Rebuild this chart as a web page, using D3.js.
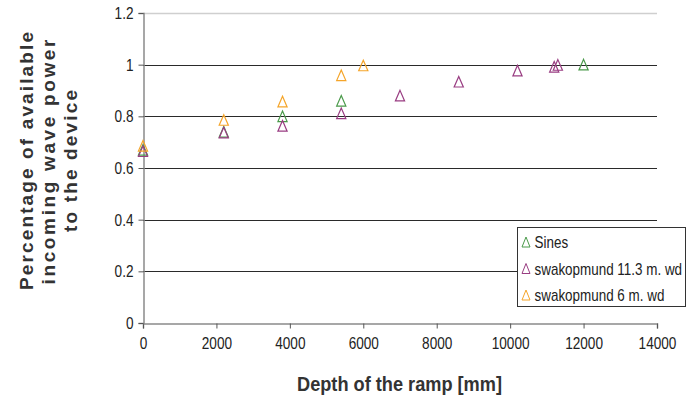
<!DOCTYPE html>
<html><head><meta charset="utf-8">
<script src="https://cdn.jsdelivr.net/npm/d3@7"></script>
<style>
body{margin:0;background:#fff;}
text{font-family:"Liberation Sans",Arial,sans-serif;}
</style></head>
<body><svg id="c" width="686" height="400"></svg>
<script>
const seriesNames = ["Sines", "swakopmund 11.3 m. wd", "swakopmund 6 m. wd"];
const seriesColors = ["#4a9a4a", "#993d82", "#f5a52a"];
const sinesX = [0, 2200, 3800, 5400, 12000];
const sinesY = [0.67, 0.74, 0.80, 0.86, 1.0];
const swak113X = [0, 2200, 3800, 5400, 7000, 8600, 10200, 11200, 11300];
const swak113Y = [0.665, 0.737, 0.763, 0.812, 0.88, 0.934, 0.977, 0.992, 0.999];
const swak6X = [0, 2200, 3800, 5400, 6000];
const swak6Y = [0.686, 0.786, 0.857, 0.959, 0.997];
const xTicks = [0, 2000, 4000, 6000, 8000, 10000, 12000, 14000];
const yTicks = [0, 0.2, 0.4, 0.6, 0.8, 1, 1.2];
const xTitle = "Depth of the ramp [mm]";
const yTitleLines = ["Percentage of available", "incoming wave power", "to the device"];

const series = [
  {name: seriesNames[0], color: seriesColors[0], xs: sinesX, ys: sinesY},
  {name: seriesNames[1], color: seriesColors[1], xs: swak113X, ys: swak113Y},
  {name: seriesNames[2], color: seriesColors[2], xs: swak6X, ys: swak6Y}
];

const svg = d3.select("#c");
const L = 143, R = 657, T = 13, B = 323;
const SX = 0.85;
const x = d3.scaleLinear().domain([0, 14000]).range([L, R]);
const y = d3.scaleLinear().domain([0, 1.2]).range([B, T]);

// gridlines
svg.append("g").selectAll("line").data(yTicks.filter(d => d > 0)).join("line")
  .attr("x1", L).attr("x2", R)
  .attr("y1", d => Math.round(y(d)) + 0.5).attr("y2", d => Math.round(y(d)) + 0.5)
  .attr("stroke", d => d === 1.2 ? "#cfcfcf" : "#2a2a2a")
  .attr("stroke-width", d => d === 1.2 ? 1.5 : 1);

// axes
const xAxis = svg.append("g").attr("transform", `translate(0,${B + 0.5})`)
  .call(d3.axisBottom(x).tickValues(xTicks).tickSize(5).tickPadding(8).tickFormat(d3.format("d")));
const yAxis = svg.append("g").attr("transform", `translate(${L + 0.5},0)`)
  .call(d3.axisLeft(y).tickValues(yTicks).tickSize(5).tickPadding(5).tickFormat(d => d3.format("")(d)));
[xAxis, yAxis].forEach(a => {
  a.select(".domain").attr("stroke", "#8a8a8a").attr("stroke-width", 1.5);
  a.selectAll(".tick line").attr("stroke", "#555");
  a.selectAll("text").attr("font-size", 16).attr("fill", "#222");
});
xAxis.selectAll(".tick text").attr("transform", `scale(${SX},1)`).attr("dy", "0.72em").attr("y", 14);
yAxis.selectAll(".tick text").attr("transform", `scale(${SX},1)`).attr("x", -10 / SX).attr("dy", "0.35em");

// triangle symbol
const tri = {draw(ctx) { const w = 4.6, h = 5.3; ctx.moveTo(0, -h); ctx.lineTo(w, h); ctx.lineTo(-w, h); ctx.closePath(); }};
const triSmall = {draw(ctx) { const w = 4, h = 5; ctx.moveTo(0, -h); ctx.lineTo(w, h); ctx.lineTo(-w, h); ctx.closePath(); }};

series.forEach(s => {
  svg.append("g").selectAll("path").data(s.xs.map((v, i) => [v, s.ys[i]])).join("path")
    .attr("d", d3.symbol().type(tri))
    .attr("transform", d => `translate(${x(d[0])},${y(d[1])})`)
    .attr("fill", "none").attr("stroke", s.color).attr("stroke-width", 1.2);
});

// legend
const lg = svg.append("g");
lg.append("rect").attr("x", 517.5).attr("y", 227.5).attr("width", 168).attr("height", 79)
  .attr("fill", "#fff").attr("stroke", "#333").attr("stroke-width", 1);
series.forEach((s, i) => {
  const cy = 242 + i * 26.5;
  lg.append("path").attr("d", d3.symbol().type(triSmall))
    .attr("transform", `translate(526,${cy})`)
    .attr("fill", "none").attr("stroke", s.color).attr("stroke-width", 1);
  lg.append("text").attr("transform", `translate(534.5,${cy + 6}) scale(0.84,1)`)
    .attr("font-size", 16).attr("fill", "#222").text(s.name);
});

// axis titles
svg.append("text").attr("x", 297).attr("y", 391)
  .attr("textLength", 205).attr("lengthAdjust", "spacingAndGlyphs")
  .attr("font-size", 20).attr("font-weight", "bold").attr("fill", "#333").text(xTitle);
const yLens = [258, 245, 142];
const yXs = [33, 55, 77];
const yCs = [161, 162, 161];
yTitleLines.forEach((t, i) => {
  svg.append("text").attr("transform", `translate(${yXs[i]},${yCs[i] + yLens[i] / 2}) rotate(-90)`)
    .attr("x", 0).attr("y", 0)
    .attr("textLength", yLens[i]).attr("lengthAdjust", "spacing")
    .attr("font-size", 19).attr("font-weight", "bold").attr("fill", "#333").text(t);
});
</script></body></html>
